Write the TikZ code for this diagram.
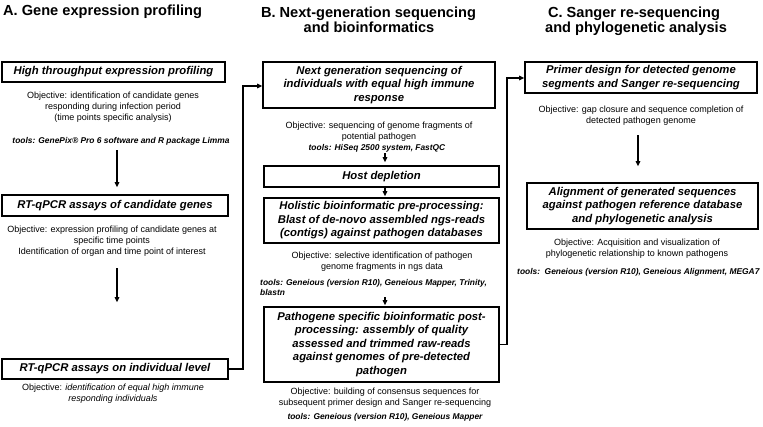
\documentclass[tikz,border=0pt]{standalone}
\usepackage{fontspec}
\setmainfont{Liberation Sans}
\usetikzlibrary{arrows.meta}
\begin{document}
\begin{tikzpicture}[x=1pt,y=-1pt,
 box/.style={draw, line width=1.6pt, inner sep=0pt, align=center, font=\fontsize{11.3}{13.5}\selectfont\bfseries\itshape},
 head/.style={inner sep=0pt, font=\fontsize{14.6}{16}\selectfont\bfseries},
 obj/.style={inner sep=0pt, align=center, font=\fontsize{9}{11}\selectfont},
 tool/.style={inner sep=0pt, font=\fontsize{8.4}{10}\selectfont\bfseries\itshape},
 conn/.style={line width=1.3pt, -{Triangle[length=5pt,width=4.5pt]}},
 wire/.style={line width=1.3pt}]
\useasboundingbox (0,0) rectangle (763,426);

% titles
\node[head, anchor=base west] (tA) at (3,15) {A. Gene expression profiling};
\node[head, anchor=base] (tB1) at (368.5,17) {B. Next-generation sequencing};
\node[head, anchor=base] (tB2) at (369,32.5) {and bioinformatics};
\node[head, anchor=base] (tC1) at (634,17) {C. Sanger re-sequencing};
\node[head, anchor=base] (tC2) at (636,32.5) {and phylogenetic analysis};

% boxes
\node[box, minimum width=223pt, minimum height=20pt] (A1) at (113.5,72) {High throughput expression profiling};
\node[box, minimum width=226pt, minimum height=21pt] (A2) at (115,205.5) {RT-qPCR assays of candidate genes};
\node[box, minimum width=226pt, minimum height=20pt] (A3) at (115,369) {RT-qPCR assays on individual level};
\node[box, minimum width=232pt, minimum height=46pt] (B1) at (379,85) {Next generation sequencing of\\individuals with equal high immune\\response};
\node[box, minimum width=235pt, minimum height=21pt] (B2) at (381.5,176.5) {Host depletion};
\node[box, minimum width=235pt, minimum height=45pt] (B3) at (381.5,220.5) {Holistic bioinformatic pre-processing:\\Blast of de-novo assembled ngs-reads\\(contigs) against pathogen databases};
\node[box, minimum width=235pt, minimum height=75pt] (B4) at (381.5,344.5) {Pathogene specific bioinformatic post-\\processing: assembly of quality\\assessed and trimmed raw-reads\\against genomes of pre-detected\\pathogen};
\node[box, minimum width=232pt, minimum height=31pt] (C1) at (641,77.5) {Primer design for detected genome\\segments and Sanger re-sequencing};
\node[box, minimum width=231pt, minimum height=46pt] (C2) at (642.5,206) {Alignment of generated sequences\\against pathogen reference database\\and phylogenetic analysis};

% objectives and tools
\node[obj] (oA1) at (113,107.5) {Objective: identification of candidate genes\\responding during infection period\\(time points specific analysis)};
\node[tool] (tA1) at (121,141) {tools: GenePix® Pro 6 software and R package Limma};
\node[obj] (oA2) at (112,241.5) {Objective: expression profiling of candidate genes at\\specific time points\\Identification of organ and time point of interest};
\node[obj] (oA3) at (113,393.5) {Objective: \textit{identification of equal high immune}\\\textit{responding individuals}};

\node[obj] (oB1) at (379,131.5) {Objective: sequencing of genome fragments of\\potential pathogen};
\node[tool] (tB1t) at (377,148) {tools: HiSeq 2500 system, FastQC};
\node[obj] (oB2) at (382,262) {Objective: selective identification of pathogen\\genome fragments in ngs data};
\node[tool, align=left, anchor=north west] (tB2t) at (260,279) {tools: Geneious (version R10), Geneious Mapper, Trinity,\\blastn};
\node[obj] (oB3) at (385,398) {Objective: building of consensus sequences for\\subsequent primer design and Sanger re-sequencing};
\node[tool] (tB3t) at (385,417) {tools: Geneious (version R10), Geneious Mapper};

\node[obj] (oC1) at (641,116) {Objective: gap closure and sequence completion of\\detected pathogen genome};
\node[obj] (oC2) at (637,249) {Objective: Acquisition and visualization of\\phylogenetic relationship to known pathogens};
\node[tool, anchor=west] (tC2t) at (517,272) {tools:\ \ Geneious (version R10), Geneious Alignment, MEGA7};

% connectors
\coordinate (a1) at (117,150);
\draw[conn, shorten >=7pt] (a1) -- (a1 |- A2.north);
\coordinate (a2) at (117,268);
\draw[conn, shorten >=56pt] (a2) -- (a2 |- A3.north);
\coordinate (j1) at (243,86);
\draw[conn] (A3.east) -| (j1) -- (j1 -| B1.west);

\coordinate (b1) at (385,153);
\draw[conn, shorten >=3pt] (b1) -- (b1 |- B2.north);
\draw[conn, shorten >=1pt] (B2.south -| b1) -- (B3.north -| b1);
\coordinate (b3) at (385,297);
\draw[conn, shorten >=1pt] (b3) -- (b3 |- B4.north);
\coordinate (j2) at (507,78);
\draw[conn] (B4.east) -| (j2) -- (j2 -| C1.west);

\coordinate (c1) at (638,135);
\draw[conn, shorten >=16pt] (c1) -- (c1 |- C2.north);
\end{tikzpicture}
\end{document}
